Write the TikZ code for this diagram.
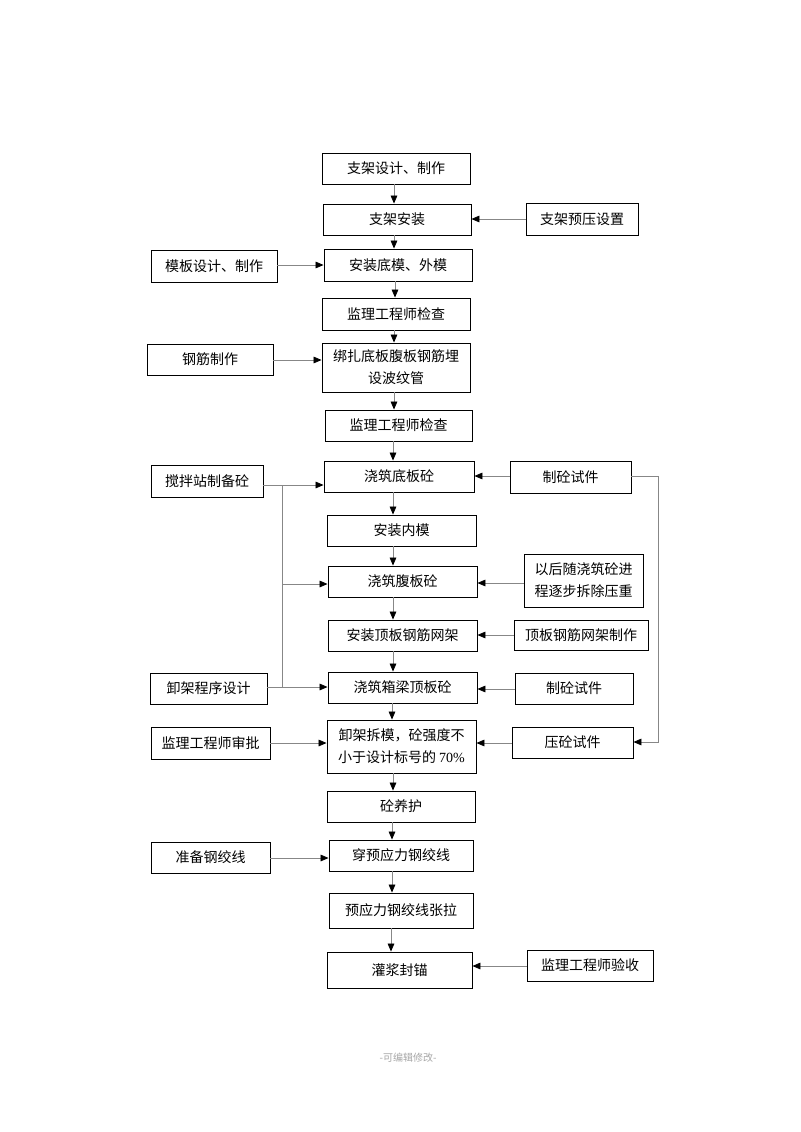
\documentclass[tikz,border=0pt]{standalone}
\usepackage{fontspec}
\setmainfont{Liberation Serif}
\newfontfamily\cjk{Noto Sans CJK SC}
\usetikzlibrary{arrows.meta,fit}
\definecolor{lnc}{RGB}{135,135,135}
\newcommand\bx[6]{\node[box,fit={(#2,#3) (#4,#5)}] (#1) {};
  \node[txt] (#1t) at (#1.center) {#6};}
\newcommand\varr[3]{\coordinate (vx) at (#3,0); \draw[arr] (#1.south -| vx) -- (#2.north -| vx);}
\newcommand\larr[3]{\coordinate (hy) at (0,#3); \draw[arr] (#1.east |- hy) -- (#2.west |- hy);}
\newcommand\rarr[3]{\coordinate (hy) at (0,#3); \draw[arr] (#1.west |- hy) -- (#2.east |- hy);}
\begin{document}
\begin{tikzpicture}[x=0.75pt,y=-0.75pt,
  box/.style={draw=black,line width=0.7pt,inner sep=0pt},
  txt/.style={inner sep=0pt,align=center,
    font=\cjk\fontsize{10.5}{16.5}\selectfont},
  conn/.style={draw=lnc,line width=0.6pt},
  arr/.style={conn,-{Triangle[length=6pt,width=5pt,color=black]}}]
\useasboundingbox[fill=white] (0,0) rectangle (800,1132);

% main column
\bx{m1}{322}{153}{470}{184}{支架设计、制作}
\bx{m2}{323}{204}{471}{235}{支架安装}
\bx{m3}{324}{249}{472}{281}{安装底模、外模}
\bx{m4}{322}{298}{470}{330}{监理工程师检查}
\bx{m5}{322}{343}{470}{392}{绑扎底板腹板钢筋埋\\设波纹管}
\bx{m6}{325}{410}{472}{441}{监理工程师检查}
\bx{m7}{324}{461}{474}{492}{浇筑底板砼}
\bx{m8}{327}{515}{476}{546}{安装内模}
\bx{m9}{328}{566}{477}{597}{浇筑腹板砼}
\bx{m10}{328}{620}{477}{651}{安装顶板钢筋网架}
\bx{m11}{328}{672}{477}{703}{浇筑箱梁顶板砼}
\bx{m12}{327}{720}{476}{773}{卸架拆模，砼强度不\\小于设计标号的 {\rmfamily 70\%}}
\bx{m13}{327}{791}{475}{822}{砼养护}
\bx{m14}{329}{840}{473}{871}{穿预应力钢绞线}
\bx{m15}{329}{893}{473}{928}{预应力钢绞线张拉}
\bx{m16}{327}{952}{472}{988}{灌浆封锚}

% left column
\bx{l1}{151}{250}{277}{282}{模板设计、制作}
\bx{l2}{147}{344}{273}{375}{钢筋制作}
\bx{l3}{151}{465}{263}{497}{搅拌站制备砼}
\bx{l4}{150}{673}{267}{704}{卸架程序设计}
\bx{l5}{151}{727}{270}{759}{监理工程师审批}
\bx{l6}{151}{842}{270}{873}{准备钢绞线}

% right column
\bx{s1}{526}{203}{638}{235}{支架预压设置}
\bx{s2}{510}{461}{631}{493}{制砼试件}
\bx{s3}{524}{554}{643}{607}{以后随浇筑砼进\\程逐步拆除压重}
\bx{s4}{514}{620}{648}{650}{顶板钢筋网架制作}
\bx{s5}{515}{673}{633}{704}{制砼试件}
\bx{s6}{512}{727}{633}{758}{压砼试件}
\bx{s7}{527}{950}{653}{981}{监理工程师验收}

% main chain
\varr{m1}{m2}{394}
\varr{m2}{m3}{394}
\varr{m3}{m4}{395}
\varr{m4}{m5}{394}
\varr{m5}{m6}{394}
\varr{m6}{m7}{393}
\varr{m7}{m8}{393}
\varr{m8}{m9}{393}
\varr{m9}{m10}{393}
\varr{m10}{m11}{393}
\varr{m11}{m12}{392}
\varr{m12}{m13}{393}
\varr{m13}{m14}{392}
\varr{m14}{m15}{392}
\varr{m15}{m16}{391}

% left inputs
\larr{l1}{m3}{265}
\larr{l2}{m5}{360}
\larr{l3}{m7}{485}
\larr{l4}{m11}{687}
\larr{l5}{m12}{743}
\larr{l6}{m14}{858}
\coordinate (jt) at (282,485);
\coordinate (jm) at (282,584);
\coordinate (jb) at (282,687);
\draw[conn] (jt) -- (jb);
\draw[arr] (jm) -- (m9.west |- jm);

% right inputs
\rarr{s1}{m2}{219}
\rarr{s2}{m7}{476}
\rarr{s3}{m9}{583}
\rarr{s4}{m10}{635}
\rarr{s5}{m11}{689}
\rarr{s6}{m12}{743}
\rarr{s7}{m16}{966}
\coordinate (rt) at (658,476);
\coordinate (rb) at (658,742);
\draw[arr] (s2.east |- rt) -- (rt) -- (rb) -- (s6.east |- rb);

% footer
\node[text=black!35,font=\cjk\fontsize{7.5}{9}\selectfont] (ft) at (408,1058) {-可编辑修改-};
\end{tikzpicture}
\end{document}
